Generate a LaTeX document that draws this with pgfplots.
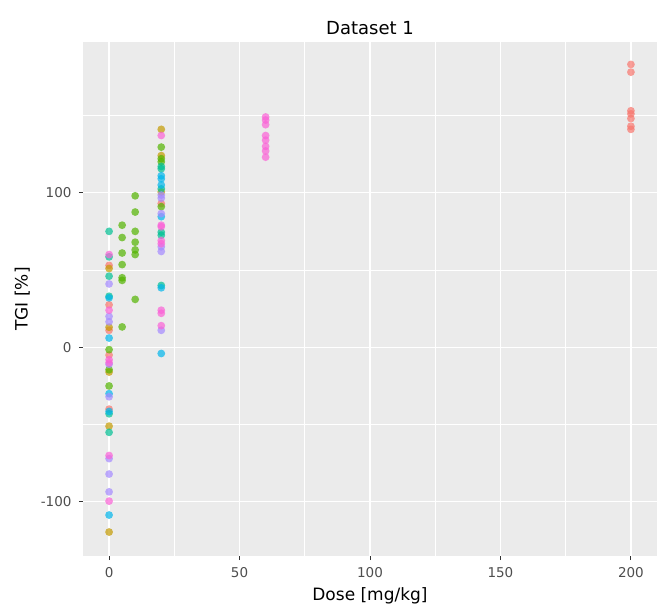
\documentclass[border=0pt]{standalone}
\usepackage{fontspec}
\setmainfont{DejaVu Sans}
\usepackage{pgfplots}
\pgfplotsset{compat=1.18}

\definecolor{panel}{HTML}{EBEBEB}
\definecolor{gA}{HTML}{F8766D}
\definecolor{gB}{HTML}{C49A00}
\definecolor{gC}{HTML}{53B400}
\definecolor{gD}{HTML}{00C094}
\definecolor{gE}{HTML}{00B6EB}
\definecolor{gF}{HTML}{A58AFF}
\definecolor{gG}{HTML}{FB61D7}
\definecolor{tickc}{HTML}{4D4D4D}
\definecolor{tickm}{HTML}{333333}

\pgfplotsset{pt/.style={only marks, mark=*, mark size=3.9pt, color=#1,
  mark options={solid, fill=#1, draw opacity=0, fill opacity=0.7}}}

\begin{document}
\begin{tikzpicture}
\begin{axis}[
  scale only axis, width=574pt, height=514pt,
  xmin=-10, xmax=210, ymin=-135, ymax=197.5,
  axis background/.style={fill=panel},
  axis line style={draw=none},
  xtick={0,50,100,150,200}, minor xtick={25,75,125,175},
  ytick={-100,0,100}, minor ytick={-50,50,150},
  yticklabels={-100,0,100},
  xtick pos=bottom, ytick pos=left,
  tick align=outside, major tick length=4pt, minor tick length=0pt,
  tick style={tickm, line width=1pt},
  grid=both,
  major grid style={white, line width=1.2pt},
  minor grid style={white, line width=0.6pt},
  /pgf/number format/assume math mode=true,
  ticklabel style={font=\fontsize{13.5}{13.5}\selectfont, text=tickc},
  xticklabel style={yshift=-4pt},
  yticklabel style={xshift=-4pt},
  xlabel={Dose [mg/kg]}, ylabel={TGI [\%]},
  label style={font=\fontsize{17}{17}\selectfont},
  xlabel style={yshift=-3pt},
  ylabel style={yshift=4pt},
  title={Dataset 1}, title style={font=\fontsize{18}{18}\selectfont, yshift=-2pt},
  clip=false,
]
\addplot[pt=gA] coordinates {(0,53) (0,27.5) (0,11) (0,-5) (0,-40) (20,93)
  (200,183) (200,178) (200,153) (200,151) (200,148) (200,143) (200,141)};
\addplot[pt=gB] coordinates {(0,51) (0,13) (0,-16) (0,-51) (0,-119.5)
  (20,141) (20,124) (20,100.5)};
\addplot[pt=gC] coordinates {(0,-1.5) (0,-14.5) (0,-25)
  (5,79) (5,71) (5,61) (5,53.5) (5,45) (5,43.3) (5,13.2)
  (10,98) (10,87.5) (10,75) (10,68) (10,63) (10,60) (10,31)
  (20,129.5) (20,122) (20,120) (20,91)};
\addplot[pt=gD] coordinates {(0,75) (0,58.5) (0,46) (0,33) (0,-43) (0,-55)
  (20,117) (20,115.5) (20,102.5) (20,74.5) (20,72.5) (20,40)};
\addplot[pt=gE] coordinates {(0,32) (0,6) (0,-30) (0,-41.5) (0,-108.5)
  (20,111) (20,109) (20,105) (20,84.5) (20,38.5) (20,-4)};
\addplot[pt=gF] coordinates {(0,41) (0,20) (0,16.5) (0,-11) (0,-32) (0,-72)
  (0,-82) (0,-93.5) (20,98.5) (20,96.5) (20,86.5) (20,65) (20,62) (20,11)};
\addplot[pt=gG] coordinates {(0,60) (0,24) (0,-8) (0,-10) (0,-70) (0,-99.5)
  (20,137) (20,79) (20,78) (20,69) (20,67) (20,24) (20,22) (20,14)
  (60,149) (60,147) (60,144) (60,137) (60,134) (60,130) (60,127) (60,123)};
\end{axis}
\pgfresetboundingbox
\path ([shift={(-83pt,-50pt)}]current axis.south west) rectangle
      ([shift={(2pt,42pt)}]current axis.north east);
\end{tikzpicture}
\end{document}
